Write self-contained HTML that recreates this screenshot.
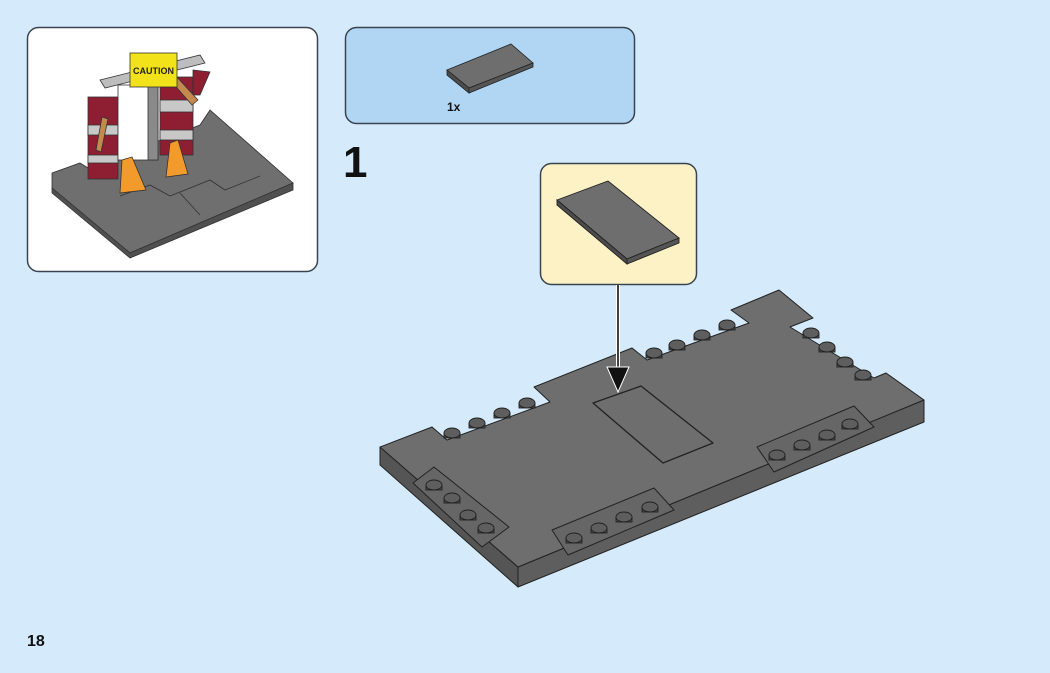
<!DOCTYPE html>
<html><head><meta charset="utf-8"><style>
html,body{margin:0;padding:0;background:#d5ebfb;}
svg{display:block}
</style></head><body>
<svg width="1050" height="673" viewBox="0 0 1050 673" xmlns="http://www.w3.org/2000/svg" font-family="Liberation Sans, sans-serif">
<rect width="1050" height="673" fill="#d5ebfb"/>
<!-- preview box -->
<rect x="27.5" y="27.5" width="290" height="244" rx="11" fill="#ffffff" stroke="#3a4450" stroke-width="1.5"/>
<g stroke="#333" stroke-width="0.8">
<polygon points="52,173 80,163 88,168 200,125 210,110 293,183 130,253 52,188" fill="#6f6f6f"/>
<polygon points="52,188 130,253 293,183 293,190 130,258 52,193" fill="#505050"/>
<polyline points="120,196 150,185 170,196 210,180 225,190 260,176" fill="none"/>
<polyline points="180,193 200,215" fill="none"/>
<rect x="88" y="97" width="30" height="82" fill="#8e1f32"/>
<rect x="88" y="125" width="30" height="10" fill="#c8c8c8"/>
<rect x="88" y="155" width="30" height="8" fill="#c8c8c8"/>
<rect x="118" y="85" width="40" height="75" fill="#ffffff"/>
<rect x="148" y="85" width="10" height="75" fill="#8a8a8a"/>
<rect x="160" y="77" width="33" height="78" fill="#8e1f32"/>
<rect x="160" y="100" width="33" height="12" fill="#c8c8c8"/>
<rect x="160" y="130" width="33" height="10" fill="#c8c8c8"/>
<polygon points="100,80 200,55 205,63 105,88" fill="#bdbdbd"/>
<polygon points="193,70 210,72 200,95 193,95" fill="#8e1f32"/>
<polygon points="96,150 102,117 108,119 101,152" fill="#c48a4d"/>
<polygon points="170,80 175,75 198,100 192,105" fill="#c48a4d"/>
<rect x="130" y="53" width="47" height="34" fill="#f2e21a"/>
<polygon points="122,160 132,157 146,190 120,193" fill="#f39a2c"/>
<polygon points="170,143 178,140 188,174 166,177" fill="#f39a2c"/>
</g>
<text x="153.5" y="74" font-size="9" font-weight="bold" text-anchor="middle" fill="#222">CAUTION</text>
<!-- parts box -->
<rect x="345.5" y="27.5" width="289" height="96" rx="11" fill="#b0d6f3" stroke="#3a4450" stroke-width="1.5"/>
<polygon points="447,70 511,44 533,63 469,88" fill="#6e6e6e" stroke="#222" stroke-width="0.8"/>
<polygon points="447,70 469,88 469,93 447,75" fill="#4c4c4c" stroke="#222" stroke-width="0.8"/>
<polygon points="469,88 533,63 533,67 469,93" fill="#555" stroke="#222" stroke-width="0.8"/>
<text x="447" y="111" font-size="12" font-weight="bold" fill="#111">1x</text>
<!-- step number -->
<text x="343" y="177" font-size="44" font-weight="bold" fill="#111">1</text>
<text x="27" y="646" font-size="16" font-weight="bold" fill="#111">18</text>
<!-- callout -->
<rect x="540.5" y="163.5" width="156" height="121" rx="11" fill="#fdf2c6" stroke="#3a4450" stroke-width="1.5"/>
<polygon points="557,200 608,181 679,238 627,259" fill="#6e6e6e" stroke="#222" stroke-width="0.9"/>
<polygon points="557,200 627,259 627,264 557,205" fill="#4c4c4c" stroke="#222" stroke-width="0.9"/>
<polygon points="627,259 679,238 679,243 627,264" fill="#555" stroke="#222" stroke-width="0.9"/>
<!-- baseplate -->
<g stroke="#222" stroke-width="1" stroke-linejoin="round">
<polygon points="380,447 518,567 518,587 380,465" fill="#555"/>
<polygon points="518,567 924,400 924,422 518,587" fill="#5e5e5e"/>
<polygon points="380,447 432,427 447,440 550,402 534,387 632,348 647,360 749,323 731,310 779,290 813,318 790,327 874,378 886,373 924,400 518,567" fill="#6e6e6e"/>
<polygon points="413,483 434,467 509,527 482,547" fill="#666"/>
<polygon points="552,530 654,488 674,510 568,555" fill="#666"/>
<polygon points="757,447 854,406 874,427 774,472" fill="#666"/>
<polygon points="593,403 641,386 713,443 663,463" fill="#6e6e6e" stroke-width="1.3"/>
</g>
<g stroke="#222" stroke-width="0.9">
<g fill="#4a4a4a">
<rect x="426" y="485" width="16" height="5"/><rect x="444" y="498" width="16" height="5"/><rect x="460" y="515" width="16" height="5"/><rect x="478" y="528" width="16" height="5"/>
<rect x="566" y="538" width="16" height="5"/><rect x="591" y="528" width="16" height="5"/><rect x="616" y="517" width="16" height="5"/><rect x="642" y="507" width="16" height="5"/>
<rect x="769" y="455" width="16" height="5"/><rect x="794" y="445" width="16" height="5"/><rect x="819" y="435" width="16" height="5"/><rect x="842" y="424" width="16" height="5"/>
<rect x="444" y="433" width="16" height="5"/><rect x="469" y="423" width="16" height="5"/><rect x="494" y="413" width="16" height="5"/><rect x="519" y="403" width="16" height="5"/>
<rect x="646" y="353" width="16" height="5"/><rect x="669" y="345" width="16" height="5"/><rect x="694" y="335" width="16" height="5"/><rect x="719" y="325" width="16" height="5"/>
<rect x="803" y="333" width="16" height="5"/><rect x="819" y="347" width="16" height="5"/><rect x="837" y="362" width="16" height="5"/><rect x="855" y="375" width="16" height="5"/>
</g>
<g fill="#5e5e5e">
<ellipse cx="434" cy="485" rx="8" ry="5"/><ellipse cx="452" cy="498" rx="8" ry="5"/><ellipse cx="468" cy="515" rx="8" ry="5"/><ellipse cx="486" cy="528" rx="8" ry="5"/>
<ellipse cx="574" cy="538" rx="8" ry="5"/><ellipse cx="599" cy="528" rx="8" ry="5"/><ellipse cx="624" cy="517" rx="8" ry="5"/><ellipse cx="650" cy="507" rx="8" ry="5"/>
<ellipse cx="777" cy="455" rx="8" ry="5"/><ellipse cx="802" cy="445" rx="8" ry="5"/><ellipse cx="827" cy="435" rx="8" ry="5"/><ellipse cx="850" cy="424" rx="8" ry="5"/>
<ellipse cx="452" cy="433" rx="8" ry="5"/><ellipse cx="477" cy="423" rx="8" ry="5"/><ellipse cx="502" cy="413" rx="8" ry="5"/><ellipse cx="527" cy="403" rx="8" ry="5"/>
<ellipse cx="654" cy="353" rx="8" ry="5"/><ellipse cx="677" cy="345" rx="8" ry="5"/><ellipse cx="702" cy="335" rx="8" ry="5"/><ellipse cx="727" cy="325" rx="8" ry="5"/>
<ellipse cx="811" cy="333" rx="8" ry="5"/><ellipse cx="827" cy="347" rx="8" ry="5"/><ellipse cx="845" cy="362" rx="8" ry="5"/><ellipse cx="863" cy="375" rx="8" ry="5"/>
</g>
</g>
<!-- arrow -->
<line x1="618" y1="285" x2="618" y2="372" stroke="#fff" stroke-width="4"/>
<line x1="618" y1="285" x2="618" y2="372" stroke="#111" stroke-width="1.6"/>
<polygon points="607,367 629,367 618,392" fill="#111" stroke="#fff" stroke-width="1"/>
</svg>
</body></html>
